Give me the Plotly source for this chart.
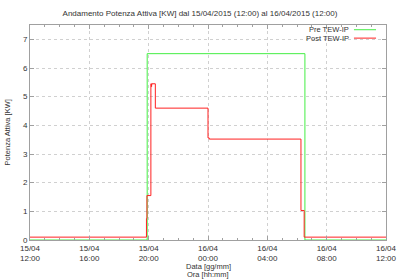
import plotly.graph_objects as go

pre_times = ["2015-04-15 12:00", "2015-04-15 19:54", "2015-04-16 06:32", "2015-04-16 12:00"]
pre_vals = [0, 6.5, 0, 0]

post_times = ["2015-04-15 12:00", "2015-04-15 19:51", "2015-04-15 19:53", "2015-04-15 20:09",
              "2015-04-15 20:11", "2015-04-15 20:12", "2015-04-15 20:13", "2015-04-15 20:27",
              "2015-04-16 00:00", "2015-04-16 00:05", "2015-04-16 06:16", "2015-04-16 06:29",
              "2015-04-16 12:00"]
post_vals = [0.1, 0.75, 1.55, 5.45, 5.35, 5.42, 5.45, 4.6, 3.56, 3.52, 1.03, 0.1, 0.1]

series_names = ["Pre TEW-IP", "Post TEW-IP"]
series_colors = ["#44ee44", "#ff2020"]

font = "Liberation Sans, Arial, sans-serif"
axcol = "#a0a0a0"

fig = go.Figure()
fig.add_trace(go.Scatter(x=pre_times, y=pre_vals, mode="lines", name=series_names[0],
                         line=dict(color=series_colors[0], width=1, shape="hv")))
fig.add_trace(go.Scatter(x=post_times, y=post_vals, mode="lines", name=series_names[1],
                         line=dict(color=series_colors[1], width=1, shape="hv")))

# gnuplot-style legend: text right-aligned, sample line to its right
legend_y = [0.978, 0.939]
for name, col, yy in zip(series_names, series_colors, legend_y):
    fig.add_annotation(xref="paper", yref="paper", x=0.899, y=yy, text=name, showarrow=False,
                       xanchor="right", yanchor="middle", font=dict(size=7.5, color="#333"),
                       borderpad=0)
    fig.add_shape(type="line", xref="paper", yref="paper", x0=0.910, x1=0.972, y0=yy, y1=yy,
                  line=dict(color=col, width=1))

# axis titles
fig.add_annotation(xref="paper", yref="paper", x=0.5, y=-0.125, text="Data [gg/mm]",
                   showarrow=False, xanchor="center", yanchor="middle",
                   font=dict(size=7.5, color="#333"), borderpad=0)
fig.add_annotation(xref="paper", yref="paper", x=0.5, y=-0.160, text="Ora [hh:mm]",
                   showarrow=False, xanchor="center", yanchor="middle",
                   font=dict(size=7.5, color="#333"), borderpad=0)
fig.add_annotation(xref="paper", yref="paper", x=-0.062, y=0.5, text="Potenza Attiva [KW]",
                   showarrow=False, xanchor="center", yanchor="middle", textangle=-90,
                   font=dict(size=7.5, color="#333"), borderpad=0)

fig.update_layout(
    width=400, height=280,
    margin=dict(l=30, r=14, t=25, b=40),
    paper_bgcolor="white", plot_bgcolor="white",
    font=dict(family=font, size=8, color="#333"),
    title=dict(text="Andamento Potenza Attiva [KW] dal 15/04/2015 (12:00) al 16/04/2015 (12:00)",
               x=0.5, xanchor="center", y=0.952, yanchor="middle",
               font=dict(size=8, family=font, color="#333")),
    showlegend=False,
)
fig.update_xaxes(
    type="date",
    range=["2015-04-15 12:00", "2015-04-16 12:00"],
    dtick=4 * 3600 * 1000, tick0="2015-04-15 12:00",
    tickformat="%d/%m<br>%H:%M",
    ticks="inside", ticklen=4, tickcolor=axcol,
    minor=dict(dtick=3600 * 1000, ticks="inside", ticklen=2, tickcolor=axcol, showgrid=False),
    showline=True, linecolor=axcol, mirror="allticks",
    showgrid=True, gridcolor="#d0d0d0", griddash="dot", gridwidth=1,
    zeroline=False, automargin=False,
    tickfont=dict(size=8),
)
fig.update_yaxes(
    range=[0, 7.5], dtick=1, tick0=0,
    ticks="inside", ticklen=4, tickcolor=axcol,
    showline=True, linecolor=axcol, mirror="allticks",
    showgrid=True, gridcolor="#d0d0d0", griddash="dot", gridwidth=1,
    zeroline=False, automargin=False,
    tickfont=dict(size=8),
)

fig.write_html("out.html")
